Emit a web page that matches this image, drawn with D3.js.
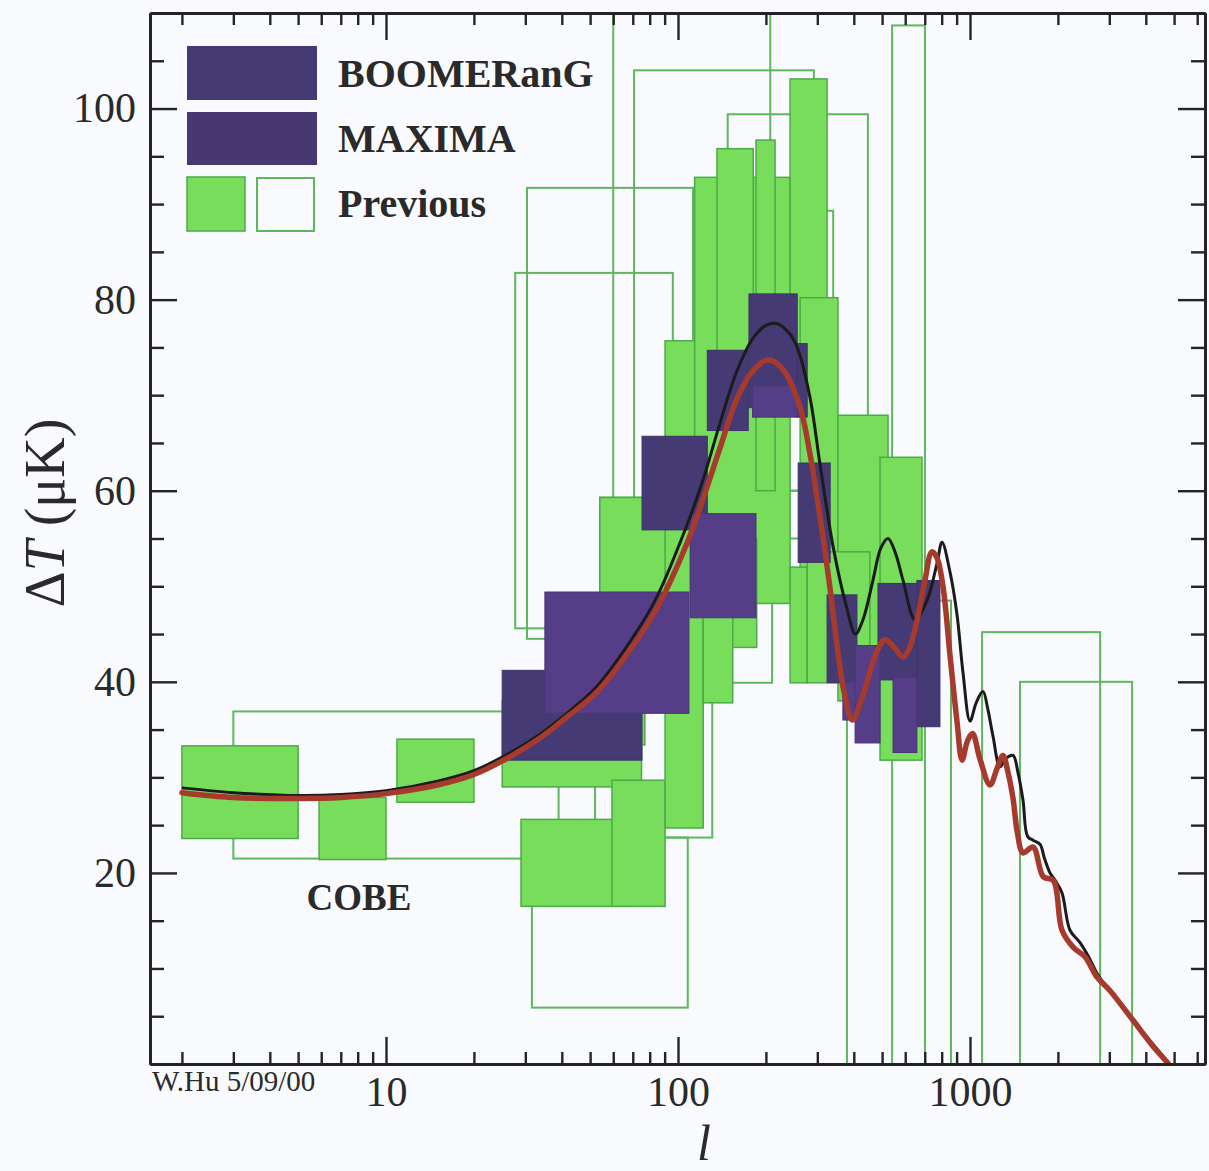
<!DOCTYPE html>
<html>
<head>
<meta charset="utf-8">
<script src="https://cdn.jsdelivr.net/npm/d3@7"></script>
<style>
  html, body { margin: 0; padding: 0; background: #f9fafd; }
  svg { display: block; }
</style>
</head>
<body>
<svg id="chart" width="1209" height="1171"></svg>
<script>
// Band powers: each box is [l_min, l_max, dT_min, dT_max] (multipole range, μK range)

// Earlier experiments, detections (filled boxes)
const prevDetections = [
  [2, 5, 23.6, 33.3],
  [5.9, 10, 21.4, 27.9],
  [10.9, 20, 27.4, 34.0],
  [25, 75, 29.0, 38.0],
  [29, 68.5, 16.5, 25.6],
  [59.4, 90.3, 16.5, 29.7],
  [54, 77, 33.4, 59.3],
  [54, 108, 49.3, 59.3],
  [90.3, 122, 24.7, 75.7],
  [114, 242, 48.2, 92.8],
  [136, 181, 69, 95.8],
  [185, 215, 60, 96.7],
  [242, 324, 72, 103.1],
  [262, 353, 48, 80.2],
  [122, 154, 37.8, 55],
  [154, 186, 43.6, 55],
  [242, 277, 39.9, 52],
  [353, 524, 38, 67.9],
  [277, 454, 39.9, 53.6],
  [492, 685, 31.8, 63.5]
];

// Earlier experiments, wide or weak constraints (open boxes)
const prevLimits = [
  [3, 39, 21.5, 36.9],
  [31.6, 108, 5.9, 23.7],
  [27.7, 96, 45.6, 82.8],
  [30.4, 112.6, 44.5, 91.7],
  [60, 207, 50, 125],
  [70.7, 292, 55, 104],
  [148, 447, 60, 99.4],
  [200, 340, 60, 89.3],
  [52, 131, 23.7, 45],
  [120, 210, 39.9, 60],
  [541, 701, -5, 108.7],
  [379, 861, -5, 48.5],
  [1100, 2790, -5, 45.2],
  [1483, 3590, -5, 40.0]
];

// BOOMERanG band powers
const boomerang = [
  [25, 75.3, 31.8, 41.2],
  [75.3, 126, 55.9, 65.7],
  [126, 174, 66.3, 74.7],
  [175, 256, 68.7, 80.6],
  [256, 277, 67.7, 75.4],
  [258, 332, 52.5, 62.9],
  [324, 410, 39.9, 49.1],
  [484, 690, 40.2, 50.3],
  [658, 789, 35.3, 50.6]
];

// MAXIMA band powers
const maxima = [
  [35, 109, 36.7, 49.4],
  [110, 185, 46.7, 57.6],
  [180, 256, 67.7, 71],
  [367, 426, 36, 40],
  [404, 492, 33.6, 43.8],
  [545, 658, 32.6, 40.5]
];

// Model spectra: [l, dT]
const modelBlack = [
  [2, 28.9], [3, 28.4], [5, 28.1], [7, 28.2], [10, 28.6], [15, 29.6], [20, 30.7],
  [26, 32.4], [34, 34.6], [42, 36.8], [53, 39.6], [72, 45.2], [85, 49.0],
  [107, 56.3], [122, 61.2], [139, 67.0], [159, 72.5], [181, 76.0], [200, 77.3],
  [218, 77.5], [240, 76.5], [256, 75.0], [283, 69.8], [306, 62.9], [340, 54.1],
  [378, 47.8], [405, 45.0], [430, 46.5], [465, 50.6], [495, 54.0], [524, 55.0],
  [555, 53.5], [590, 50.6], [648, 46.5], [712, 48.5], [771, 52.4], [802, 54.6],
  [854, 51.5], [903, 47.0], [946, 41.0], [1000, 35.9], [1050, 37.8], [1108, 39.0],
  [1150, 37.2], [1199, 34.3], [1267, 31.1], [1330, 32.0], [1404, 32.3],
  [1460, 30.5], [1519, 27.6], [1576, 23.8], [1650, 23.4], [1737, 23.0],
  [1800, 21.5], [1879, 20.0], [1960, 19.2], [2066, 17.9], [2200, 14.0],
  [2381, 12.7], [2550, 11.2], [2722, 9.5], [2900, 8.3], [3088, 7.3],
  [3612, 4.6], [4200, 2.2], [4764, 0.2]
];

const modelRed = [
  [2, 28.4], [3, 27.9], [5, 27.8], [7, 27.9], [10, 28.3], [15, 29.2], [20, 30.3],
  [26, 32.0], [34, 34.2], [42, 36.4], [53, 39.0], [72, 44.3], [85, 47.8],
  [107, 54.4], [122, 59.2], [139, 64.4], [159, 69.6], [181, 72.6], [205, 73.7],
  [230, 72.6], [262, 68.7], [283, 63.9], [306, 57.4], [330, 50.3], [350, 44.0],
  [370, 39.0], [395, 36.0], [430, 38.6], [480, 43.2], [512, 44.4], [550, 43.6],
  [590, 42.6], [620, 43.5], [658, 46.4], [700, 50.5], [740, 53.6], [770, 53.0],
  [808, 50.0], [854, 42.8], [903, 35.8], [939, 31.8], [980, 33.8], [1020, 34.6],
  [1080, 32.0], [1171, 29.2], [1240, 31.0], [1297, 32.3], [1350, 30.5],
  [1404, 27.8], [1453, 24.2], [1519, 22.1], [1645, 22.7], [1782, 19.6],
  [1929, 19.2], [2066, 14.0], [2260, 12.2], [2479, 11.2], [2722, 9.1],
  [3013, 7.7], [3612, 4.6], [4200, 2.0], [4764, 0.1]
];

const xMajorTicks = [10, 100, 1000];
const yMajorTicks = [20, 40, 60, 80, 100];
const legendLabels = ["BOOMERanG", "MAXIMA", "Previous"];
const creditText = "W.Hu 5/09/00";
const cobeLabel = "COBE";

const colors = {
  green: "#77dd5b",
  greenEdge: "#4ea94a",
  greenLine: "#5fb75d",
  boomerang: "#463a74",
  maxima: "#553d87",
  black: "#1b1b1b",
  red: "#a63a2d",
  axis: "#242424",
  text: "#2a2a2a"
};
const serif = '"Liberation Serif", "Times New Roman", Times, serif';

const plot = { left: 150, right: 1205, top: 13, bottom: 1064 };

const svg = d3.select("#chart");

const x = d3.scaleLog().domain([1.555, 6380]).range([plot.left, plot.right]);
const y = d3.scaleLinear().domain([0, 110]).range([plot.bottom, plot.top]);

svg.append("defs").append("clipPath").attr("id", "plot-clip")
  .append("rect")
  .attr("x", plot.left).attr("y", plot.top)
  .attr("width", plot.right - plot.left).attr("height", plot.bottom - plot.top);

const body = svg.append("g").attr("clip-path", "url(#plot-clip)");

function drawBoxes(data, cls, fill, stroke, width) {
  body.append("g").attr("class", cls)
    .selectAll("rect").data(data).join("rect")
    .attr("x", d => x(d[0]))
    .attr("width", d => x(d[1]) - x(d[0]))
    .attr("y", d => y(d[3]))
    .attr("height", d => y(d[2]) - y(d[3]))
    .attr("fill", fill)
    .attr("stroke", stroke)
    .attr("stroke-width", width);
}

drawBoxes(prevLimits, "prev-limits", "none", colors.greenLine, 2);
drawBoxes(prevDetections, "prev-detections", colors.green, colors.greenEdge, 1.5);
drawBoxes(boomerang, "boomerang", colors.boomerang, "#3d3268", 1);
drawBoxes(maxima, "maxima", colors.maxima, "#4a357a", 1);

const line = d3.line()
  .x(d => x(d[0]))
  .y(d => y(d[1]))
  .curve(d3.curveCatmullRom.alpha(0.5));

body.append("path").datum(modelBlack)
  .attr("d", line).attr("fill", "none")
  .attr("stroke", colors.black).attr("stroke-width", 3)
  .attr("stroke-linejoin", "round");

body.append("path").datum(modelRed)
  .attr("d", line).attr("fill", "none")
  .attr("stroke", colors.red).attr("stroke-width", 5.5)
  .attr("stroke-linejoin", "round").attr("stroke-linecap", "round");

// Axes: ticks point inward on all four sides
const xMinorTicks = x.ticks().filter(v => !xMajorTicks.includes(v));
const yMinorTicks = d3.range(5, 110, 5).filter(v => !yMajorTicks.includes(v));

function styleAxis(g) {
  g.select(".domain").attr("stroke", colors.axis).attr("stroke-width", 3);
  g.selectAll(".tick line").attr("stroke", colors.axis).attr("stroke-width", 2.4);
  g.selectAll("text")
    .attr("font-family", serif).attr("font-size", 42).attr("fill", colors.text);
}

const bottomG = svg.append("g").attr("transform", `translate(0,${plot.bottom})`);
bottomG.append("g").call(d3.axisBottom(x).tickValues(xMinorTicks).tickSize(-12).tickSizeOuter(0).tickFormat(""))
  .call(styleAxis);
bottomG.append("g").call(d3.axisBottom(x).tickValues(xMajorTicks).tickSize(-27).tickSizeOuter(0)
  .tickPadding(12).tickFormat(d3.format("d")))
  .call(styleAxis);

const topG = svg.append("g").attr("transform", `translate(0,${plot.top})`);
topG.append("g").call(d3.axisTop(x).tickValues(xMinorTicks).tickSize(-12).tickSizeOuter(0).tickFormat(""))
  .call(styleAxis);
topG.append("g").call(d3.axisTop(x).tickValues(xMajorTicks).tickSize(-27).tickSizeOuter(0).tickFormat(""))
  .call(styleAxis);

const leftG = svg.append("g").attr("transform", `translate(${plot.left},0)`);
leftG.append("g").call(d3.axisLeft(y).tickValues(yMinorTicks).tickSize(-14).tickSizeOuter(0).tickFormat(""))
  .call(styleAxis);
leftG.append("g").call(d3.axisLeft(y).tickValues(yMajorTicks).tickSize(-27).tickSizeOuter(0)
  .tickPadding(14).tickFormat(d3.format("d")))
  .call(styleAxis);

const rightG = svg.append("g").attr("transform", `translate(${plot.right},0)`);
rightG.append("g").call(d3.axisRight(y).tickValues(yMinorTicks).tickSize(-14).tickSizeOuter(0).tickFormat(""))
  .call(styleAxis);
rightG.append("g").call(d3.axisRight(y).tickValues(yMajorTicks).tickSize(-27).tickSizeOuter(0).tickFormat(""))
  .call(styleAxis);

// Axis titles
const yTitle = svg.append("text")
  .attr("transform", "translate(64,513) rotate(-90)")
  .attr("text-anchor", "middle")
  .attr("font-family", serif).attr("font-size", 56).attr("fill", colors.text);
yTitle.append("tspan").text("\u0394");
yTitle.append("tspan").attr("font-style", "italic").text("T");
yTitle.append("tspan").text(" (\u03bcK)");

svg.append("text")
  .attr("x", 704).attr("y", 1160)
  .attr("text-anchor", "middle")
  .attr("font-family", serif).attr("font-style", "italic")
  .attr("font-size", 50).attr("fill", colors.text)
  .text("l");

svg.append("text")
  .attr("x", 152).attr("y", 1091)
  .attr("font-family", serif).attr("font-size", 29).attr("fill", colors.text)
  .text(creditText);

svg.append("text")
  .attr("x", 359).attr("y", 910)
  .attr("text-anchor", "middle")
  .attr("font-family", serif).attr("font-weight", "bold")
  .attr("font-size", 37).attr("fill", colors.text)
  .text(cobeLabel);

// Legend
const legend = svg.append("g");
legend.append("rect").attr("x", 187).attr("y", 46).attr("width", 130).attr("height", 54)
  .attr("fill", colors.boomerang);
legend.append("rect").attr("x", 187).attr("y", 112).attr("width", 130).attr("height", 53)
  .attr("fill", "#483872");
legend.append("rect").attr("x", 187).attr("y", 177).attr("width", 58).attr("height", 54)
  .attr("fill", colors.green).attr("stroke", colors.greenEdge).attr("stroke-width", 1.5);
legend.append("rect").attr("x", 257).attr("y", 178).attr("width", 57).attr("height", 53)
  .attr("fill", "none").attr("stroke", colors.greenLine).attr("stroke-width", 2);

legend.selectAll("text.label").data(legendLabels).join("text")
  .attr("class", "label")
  .attr("x", 338)
  .attr("y", (d, i) => 87 + i * 65)
  .attr("font-family", serif).attr("font-weight", "bold")
  .attr("font-size", 40).attr("fill", colors.text)
  .text(d => d);
</script>
</body>
</html>
